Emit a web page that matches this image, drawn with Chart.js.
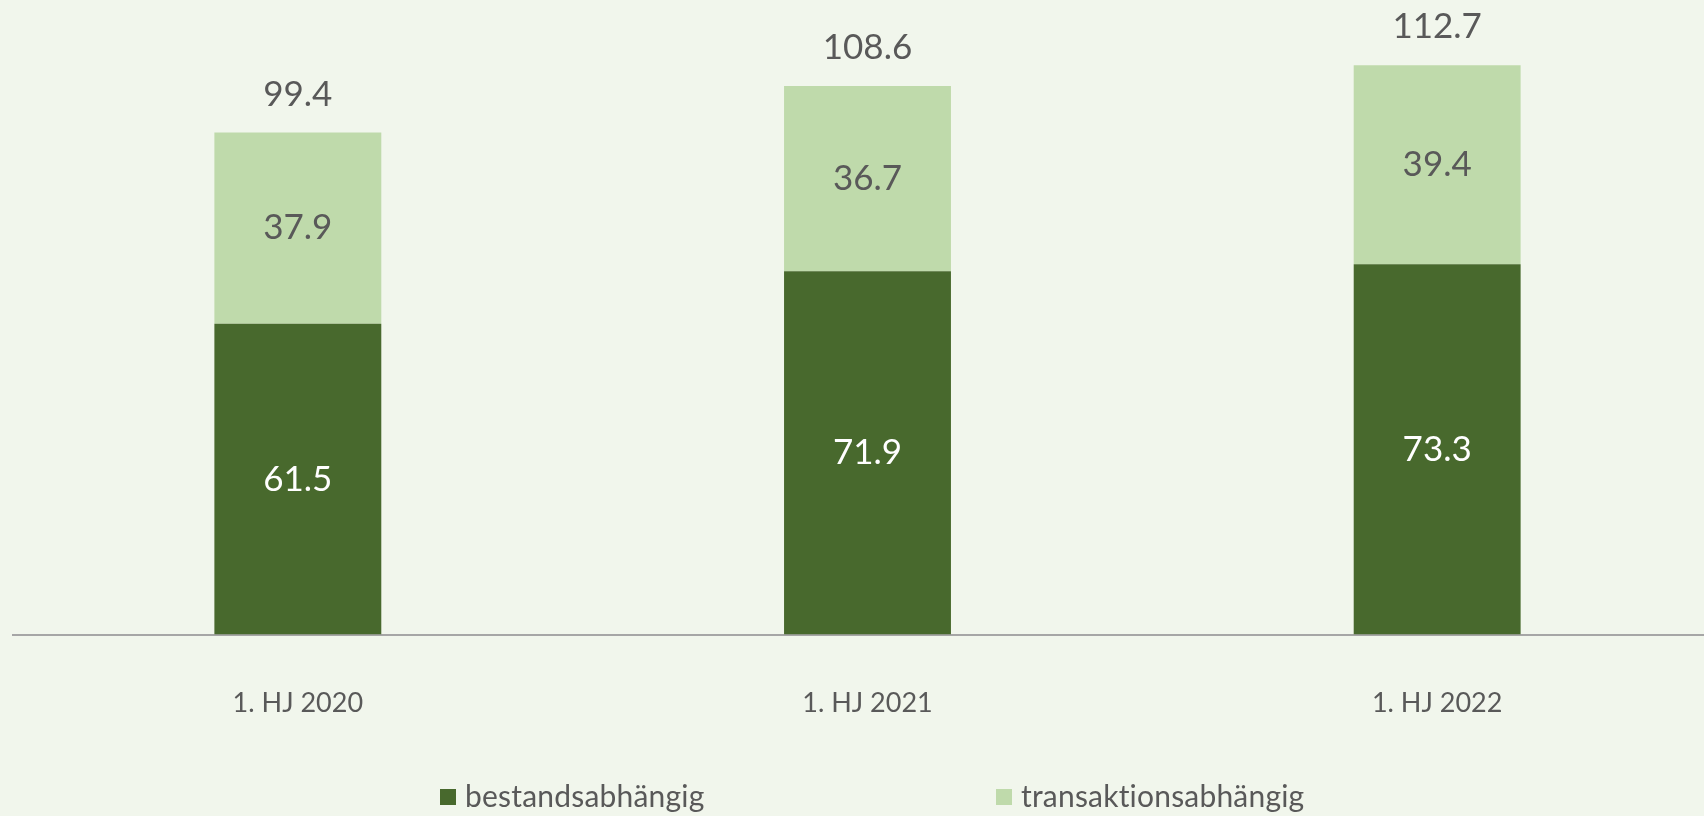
<!DOCTYPE html>
<html>
<head>
<meta charset="utf-8">
<script src="https://cdn.jsdelivr.net/npm/chart.js@4.4.0/dist/chart.umd.min.js"></script>
<style>
  html, body { margin: 0; padding: 0; background: #F1F6EC; overflow: hidden; }
  #wrap { width: 1704px; height: 816px; position: relative; overflow: hidden; }
  canvas { display: block; font-variant-ligatures: none; }
</style>
</head>
<body>
<div id="wrap"><canvas id="c" width="1722" height="816"></canvas></div>
<script>
const categories = ['1. HJ 2020', '1. HJ 2021', '1. HJ 2022'];
const seriesNames = ['bestandsabhängig', 'transaktionsabhängig'];
const bestandsabhaengig = [61.5, 71.9, 73.3];
const transaktionsabhaengig = [37.9, 36.7, 39.4];

const BG = '#F1F6EC';
const DARK = '#48692D';
const LIGHT = '#BFDAAB';
const TEXT = '#595959';
const FONT = 'Lato, "Open Sans", sans-serif';

const bgPlugin = {
  id: 'bg',
  beforeDraw(chart) {
    const ctx = chart.ctx;
    ctx.save();
    ctx.fillStyle = BG;
    ctx.fillRect(0, 0, chart.width, chart.height);
    ctx.restore();
  }
};

const labelPlugin = {
  id: 'labels',
  afterDatasetsDraw(chart) {
    const ctx = chart.ctx;
    ctx.save();
    ctx.font = '35px ' + FONT;
    ctx.textAlign = 'center';
    ctx.textBaseline = 'middle';
    chart.data.datasets.forEach((ds, di) => {
      const meta = chart.getDatasetMeta(di);
      meta.data.forEach((el, i) => {
        ctx.fillStyle = di === 0 ? '#FFFFFF' : TEXT;
        ctx.fillText(ds.data[i].toFixed(1), el.x, (el.y + el.base) / 2);
      });
    });
    const lastMeta = chart.getDatasetMeta(chart.data.datasets.length - 1);
    lastMeta.data.forEach((el, i) => {
      const total = chart.data.datasets.reduce((s, ds) => s + ds.data[i], 0);
      ctx.fillStyle = TEXT;
      ctx.fillText(total.toFixed(1), el.x, el.y - 38);
    });
    ctx.restore();
  }
};

const legendPlugin = {
  id: 'customLegend',
  afterDraw(chart) {
    const ctx = chart.ctx;
    ctx.save();
    ctx.font = '30px ' + FONT;
    if ('letterSpacing' in ctx) ctx.letterSpacing = '0.2px';
    ctx.textBaseline = 'middle';
    ctx.textAlign = 'left';
    const box = 16, gapText = 9;
    const starts = [440, 996];
    const cy = 797;
    chart.data.datasets.forEach((ds, i) => {
      const x = starts[i];
      ctx.fillStyle = ds.backgroundColor;
      ctx.fillRect(x, cy - box / 2, box, box);
      ctx.fillStyle = TEXT;
      ctx.fillText(ds.label, x + box + gapText, cy);
    });
    ctx.restore();
  }
};

new Chart(document.getElementById('c'), {
  type: 'bar',
  data: {
    labels: categories,
    datasets: [
      { label: seriesNames[0], data: bestandsabhaengig, backgroundColor: DARK, borderWidth: 0 },
      { label: seriesNames[1], data: transaktionsabhaengig, backgroundColor: LIGHT, borderWidth: 0 }
    ]
  },
  options: {
    responsive: false,
    animation: false,
    devicePixelRatio: 1,
    layout: { padding: { left: 13, right: 0, top: 0, bottom: 45 } },
    categoryPercentage: 1,
    barPercentage: 0.293,
    plugins: {
      legend: { display: false },
      tooltip: { enabled: false }
    },
    scales: {
      x: {
        stacked: true,
        grid: { display: false, drawTicks: false },
        border: { display: true, color: '#A6A6A6', width: 2 },
        ticks: { color: TEXT, font: { family: FONT, size: 27, lineHeight: 1.2 }, padding: 52, maxRotation: 0 }
      },
      y: {
        stacked: true,
        display: false,
        min: 0,
        max: 125.6
      }
    }
  },
  plugins: [bgPlugin, labelPlugin, legendPlugin]
});
</script>
</body>
</html>
